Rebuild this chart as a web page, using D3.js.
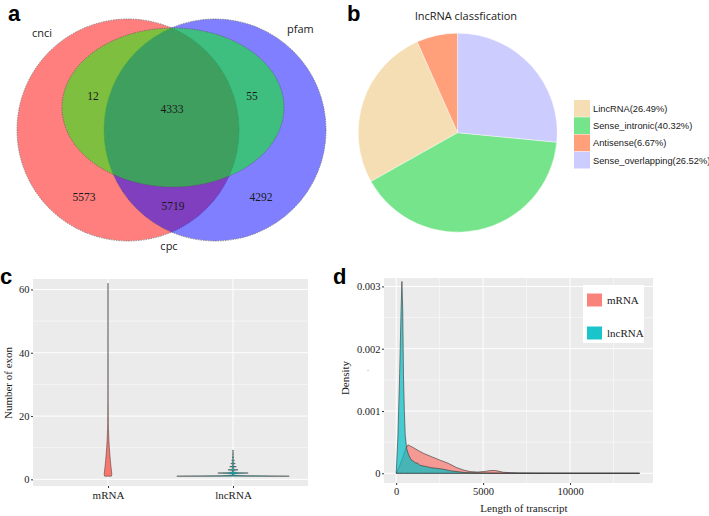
<!DOCTYPE html>
<html><head><meta charset="utf-8">
<script src="https://cdn.jsdelivr.net/npm/d3@7"></script>
<style>body{margin:0;background:#fff}svg{display:block}</style>
</head><body><svg id="fig" width="709" height="516"></svg>
<script>
// ---------------- DATA ----------------
// Panel a: Venn
const vennSetNames = ["cnci", "pfam", "cpc"];
const vennRegionNames = ["cnci∩cpc", "all", "pfam∩cpc", "cnci only", "cnci∩pfam", "pfam only"];
const vennRegionCounts = [12, 4333, 55, 5573, 5719, 4292];

// Panel b: pie
const pieTitle = "lncRNA classfication";
const pieCategories = ["LincRNA", "Sense_intronic", "Antisense", "Sense_overlapping"];
const piePercents = [26.49, 40.32, 6.67, 26.52];
const pieClockwiseOrder = ["Sense_overlapping", "Sense_intronic", "LincRNA", "Antisense"];
const pieColors = ["#F5DEB3", "#76E48A", "#FFA07A", "#CCCCFF"];

// Panel c: violin (relative density by exon number)
const violinGroups = ["mRNA", "lncRNA"];
const violinColors = ["#F8766D", "#00BFC4"];
const mrnaExonY = [1, 1.5, 2, 3, 4, 5, 6, 8, 10, 12, 14, 16, 18, 20, 24, 28, 34, 40, 48, 56, 62];
const mrnaExonDensity = [0.058, 0.068, 0.066, 0.06, 0.053, 0.047, 0.042, 0.032, 0.024, 0.017, 0.012, 0.008, 0.006, 0.004, 0.0025, 0.0018, 0.0012, 0.0009, 0.0006, 0.0004, 0];
const lncExonY = [1, 1.15, 1.3, 1.7, 1.88, 2, 2.12, 2.3, 2.75, 2.9, 3, 3.1, 3.3, 3.8, 4, 4.2, 4.8, 5, 5.2, 5.8, 6, 6.2, 6.8, 7, 7.2, 7.8, 8, 8.2, 8.8, 9, 9.3];
const lncExonDensity = [1, 0.2, 0.01, 0.005, 0.1, 0.27, 0.1, 0.008, 0.004, 0.035, 0.09, 0.035, 0.004, 0.003, 0.06, 0.003, 0.002, 0.04, 0.002, 0.002, 0.025, 0.002, 0.001, 0.017, 0.001, 0.001, 0.012, 0.001, 0.0005, 0.007, 0];
const exonTicks = [0, 20, 40, 60];
const exonMinorTicks = [10, 30, 50];

// Panel d: density of transcript length
const densityGroups = ["mRNA", "lncRNA"];
const mrnaLength = [0, 200, 400, 550, 680, 800, 1000, 1300, 1570, 2000, 2530, 3000, 3490, 3900, 4250, 4700, 5100, 5400, 5700, 6170, 6600, 7000, 8000, 10000, 14000];
const mrnaDensity = [0, 0.00012, 0.00027, 0.0004, 0.000455, 0.00044, 0.00041, 0.00036, 0.00032, 0.00027, 0.00021, 0.00016, 0.00009, 0.00005, 0.000027, 0.00002, 0.00003, 0.000043, 0.000045, 0.000016, 0.00001, 0.000006, 0.000003, 0.000001, 0];
const lncLength = [0, 100, 200, 280, 330, 380, 420, 470, 520, 600, 710, 850, 1000, 1100, 1250, 1350, 1500, 1700, 2000, 2300, 2600, 2800, 3100, 3500, 4000, 5000, 6000, 14000];
const lncDensity = [0, 0.0006, 0.0016, 0.0026, 0.00308, 0.0026, 0.00158, 0.001, 0.00062, 0.0004, 0.0003, 0.00022, 0.00019, 0.00017, 0.00016, 0.00013, 0.00012, 0.00011, 0.00009, 0.00008, 0.00007, 0.00006, 0.00004, 0.000027, 0.00001, 0.000003, 0, 0];
const lengthTicks = [0, 5000, 10000];
const lengthMinorTicks = [2500, 7500, 12500];
const densityTicks = [0, 0.001, 0.002, 0.003];
const densityTickLabels = ["0", "0.001", "0.002", "0.003"];
const densityMinorTicks = [0.0005, 0.0015, 0.0025];

// ---------------- DRAW ----------------
const svg = d3.select("#fig");
const SERIF = "'Liberation Serif','Times New Roman',serif";
const SANS = "'Liberation Sans',Arial,sans-serif";
const OPEN = "'Open Sans','DejaVu Sans',sans-serif";

function txt(g, x, y, s, size, fam, anchor, extra) {
  const t = g.append("text").attr("x", x).attr("y", y).text(s)
    .attr("font-size", size).attr("font-family", fam).attr("text-anchor", anchor || "start").attr("fill", "#1a1a1a");
  if (extra) extra(t);
  return t;
}

// panel letters
[["a", 8, 20.5], ["b", 347, 20.5], ["c", 0, 284], ["d", 333, 284]].forEach(([l, x, y]) => {
  txt(svg, x, y, l, 22, SANS, "start", t => t.attr("font-weight", "bold").attr("fill", "#000"));
});

// ---- Panel a: Venn ----
(function () {
  const g = svg.append("g");
  const circles = [
    { cx: 128, cy: 130, rx: 111, ry: 111, fill: "rgba(255,0,0,0.5)" },
    { cx: 215, cy: 130, rx: 111, ry: 111, fill: "rgba(0,0,255,0.5)" },
    { cx: 173, cy: 107.5, rx: 111, ry: 79.5, fill: "rgba(0,255,0,0.5)" }
  ];
  g.selectAll("ellipse").data(circles).enter().append("ellipse")
    .attr("cx", d => d.cx).attr("cy", d => d.cy).attr("rx", d => d.rx).attr("ry", d => d.ry)
    .attr("fill", d => d.fill).attr("stroke", "#555").attr("stroke-width", 0.6).attr("stroke-dasharray", "1.5,1");
  const setPos = [[32, 37, "start"], [287, 33, "start"], [169, 250, "middle"]];
  vennSetNames.forEach((n, i) => txt(g, setPos[i][0], setPos[i][1], n, 11, OPEN, setPos[i][2]));
  const regPos = [[93, 100], [172, 113], [252, 100], [84, 201], [173, 210], [261, 201]];
  vennRegionCounts.forEach((c, i) => txt(g, regPos[i][0], regPos[i][1], String(c), 11.5, SERIF, "middle"));
})();

// ---- Panel b: Pie ----
(function () {
  const g = svg.append("g");
  const cx = 457.7, cy = 132.7, r = 99.5;
  txt(g, 466, 20, pieTitle, 11, OPEN, "middle");
  const data = pieCategories.map((c, i) => ({ name: c, v: piePercents[i], color: pieColors[i] }));
  const pie = d3.pie().value(d => d.v)
    .sort((a, b) => pieClockwiseOrder.indexOf(a.name) - pieClockwiseOrder.indexOf(b.name));
  const arc = d3.arc().innerRadius(0).outerRadius(r);
  g.append("g").attr("transform", `translate(${cx},${cy})`)
    .selectAll("path").data(pie(data)).enter().append("path")
    .attr("d", arc).attr("fill", d => d.data.color).attr("stroke", "#fff").attr("stroke-width", 0.4);
  const ly = d3.scaleBand().domain(pieCategories).range([100, 169]);
  const lg = g.append("g");
  lg.selectAll("rect").data(data).enter().append("rect")
    .attr("x", 574).attr("y", d => ly(d.name)).attr("width", 16).attr("height", ly.bandwidth() - 0.5)
    .attr("fill", d => d.color);
  data.forEach(d => txt(lg, 593, ly(d.name) + ly.bandwidth() / 2 + 3.3, `${d.name}(${d.v.toFixed(2)}%)`, 9.3, SANS, "start"));
})();

// ---- Panel c: Violin ----
(function () {
  const g = svg.append("g");
  const L = 33, R = 308, T = 279, B = 486;
  const x = d3.scalePoint().domain(violinGroups).range([L, R]).padding(0.6);
  const y = d3.scaleLinear().domain([-2.1, 63.3]).range([B, T]);
  const w = d3.scaleLinear().domain([0, 1]).range([0, 0.45 * x.step()]);
  g.append("rect").attr("x", L).attr("y", T).attr("width", R - L).attr("height", B - T).attr("fill", "#EBEBEB");
  exonMinorTicks.forEach(v => g.append("line").attr("x1", L).attr("x2", R).attr("y1", y(v)).attr("y2", y(v)).attr("stroke", "#fff").attr("stroke-width", 0.5));
  exonTicks.forEach(v => g.append("line").attr("x1", L).attr("x2", R).attr("y1", y(v)).attr("y2", y(v)).attr("stroke", "#fff").attr("stroke-width", 1));
  violinGroups.forEach(c => g.append("line").attr("x1", x(c)).attr("x2", x(c)).attr("y1", T).attr("y2", B).attr("stroke", "#fff").attr("stroke-width", 1));
  const sets = [
    { name: "mRNA", pts: mrnaExonY.map((v, i) => ({ y: v, d: mrnaExonDensity[i] })), color: violinColors[0] },
    { name: "lncRNA", pts: lncExonY.map((v, i) => ({ y: v, d: lncExonDensity[i] })), color: violinColors[1] }
  ];
  sets.forEach(s => {
    const cx = x(s.name);
    const area = d3.area().x0(d => cx - w(d.d)).x1(d => cx + w(d.d)).y(d => y(d.y));
    g.append("path").attr("d", area(s.pts)).attr("fill", s.color).attr("stroke", "#333").attr("stroke-width", 0.5);
  });
  const ya = g.append("g").attr("transform", `translate(${L},0)`)
    .call(d3.axisLeft(y).tickValues(exonTicks).tickSize(2).tickPadding(1.5));
  ya.select(".domain").remove();
  ya.selectAll("line").attr("stroke", "#333");
  ya.selectAll("text").attr("font-family", SERIF).attr("font-size", 10.5).attr("fill", "#222");
  const xa = g.append("g").attr("transform", `translate(0,${B})`)
    .call(d3.axisBottom(x).tickSize(2).tickPadding(3));
  xa.select(".domain").remove();
  xa.selectAll("line").attr("stroke", "#333");
  xa.selectAll("text").attr("font-family", SERIF).attr("font-size", 11).attr("fill", "#222");
  txt(g, 0, 0, "Number of exon", 11, SERIF, "middle", t => t.attr("transform", "translate(11.5,383) rotate(-90)"));
})();

// ---- Panel d: Density ----
(function () {
  const g = svg.append("g");
  const L = 384, R = 653, T = 278, B = 483;
  const x = d3.scaleLinear().domain([-700, 14770]).range([L, R]);
  const y = d3.scaleLinear().domain([-0.000156, 0.003135]).range([B, T]);
  g.append("rect").attr("x", L).attr("y", T).attr("width", R - L).attr("height", B - T).attr("fill", "#EBEBEB");
  densityMinorTicks.forEach(v => g.append("line").attr("x1", L).attr("x2", R).attr("y1", y(v)).attr("y2", y(v)).attr("stroke", "#fff").attr("stroke-width", 0.5));
  lengthMinorTicks.forEach(v => g.append("line").attr("x1", x(v)).attr("x2", x(v)).attr("y1", T).attr("y2", B).attr("stroke", "#fff").attr("stroke-width", 0.5));
  densityTicks.forEach(v => g.append("line").attr("x1", L).attr("x2", R).attr("y1", y(v)).attr("y2", y(v)).attr("stroke", "#fff").attr("stroke-width", 1));
  lengthTicks.forEach(v => g.append("line").attr("x1", x(v)).attr("x2", x(v)).attr("y1", T).attr("y2", B).attr("stroke", "#fff").attr("stroke-width", 1));
  const area = d3.area().x(d => x(d[0])).y0(y(0)).y1(d => y(d[1]));
  const sets = [
    { pts: mrnaLength.map((v, i) => [v, mrnaDensity[i]]), color: violinColors[0] },
    { pts: lncLength.map((v, i) => [v, lncDensity[i]]), color: violinColors[1] }
  ];
  sets.forEach(s => g.append("path").attr("d", area(s.pts)).attr("fill", s.color).attr("fill-opacity", 0.7)
    .attr("stroke", "#333").attr("stroke-width", 0.6));
  const ya = g.append("g").attr("transform", `translate(${L},0)`)
    .call(d3.axisLeft(y).tickValues(densityTicks).tickFormat((d, i) => densityTickLabels[i]).tickSize(2).tickPadding(1.5));
  ya.select(".domain").remove();
  ya.selectAll("line").attr("stroke", "#333");
  ya.selectAll("text").attr("font-family", SERIF).attr("font-size", 10.5).attr("fill", "#222");
  const xa = g.append("g").attr("transform", `translate(0,${B})`)
    .call(d3.axisBottom(x).tickValues(lengthTicks).tickFormat(d3.format("d")).tickSize(2).tickPadding(3));
  xa.select(".domain").remove();
  xa.selectAll("line").attr("stroke", "#333");
  xa.selectAll("text").attr("font-family", SERIF).attr("font-size", 10.5).attr("fill", "#222");
  txt(g, 524, 512, "Length of transcript", 11, SERIF, "middle");
  txt(g, 0, 0, "Density", 11, SERIF, "middle", t => t.attr("transform", "translate(349,378) rotate(-90)"));
  txt(g, 367, 371, ".", 8, SERIF, "start", t => t.attr("fill", "#777"));
  const lg = g.append("g");
  lg.append("rect").attr("x", 583).attr("y", 285).attr("width", 61).attr("height", 58).attr("fill", "#fff");
  const ky = d3.scalePoint().domain(densityGroups).range([300, 333]);
  densityGroups.forEach((n, i) => {
    lg.append("rect").attr("x", 587).attr("y", ky(n) - 6.5).attr("width", 15).attr("height", 13)
      .attr("fill", violinColors[i]).attr("fill-opacity", 0.9);
    txt(lg, 607, ky(n) + 3.8, n, 11, SERIF, "start");
  });
})();
</script></body></html>
